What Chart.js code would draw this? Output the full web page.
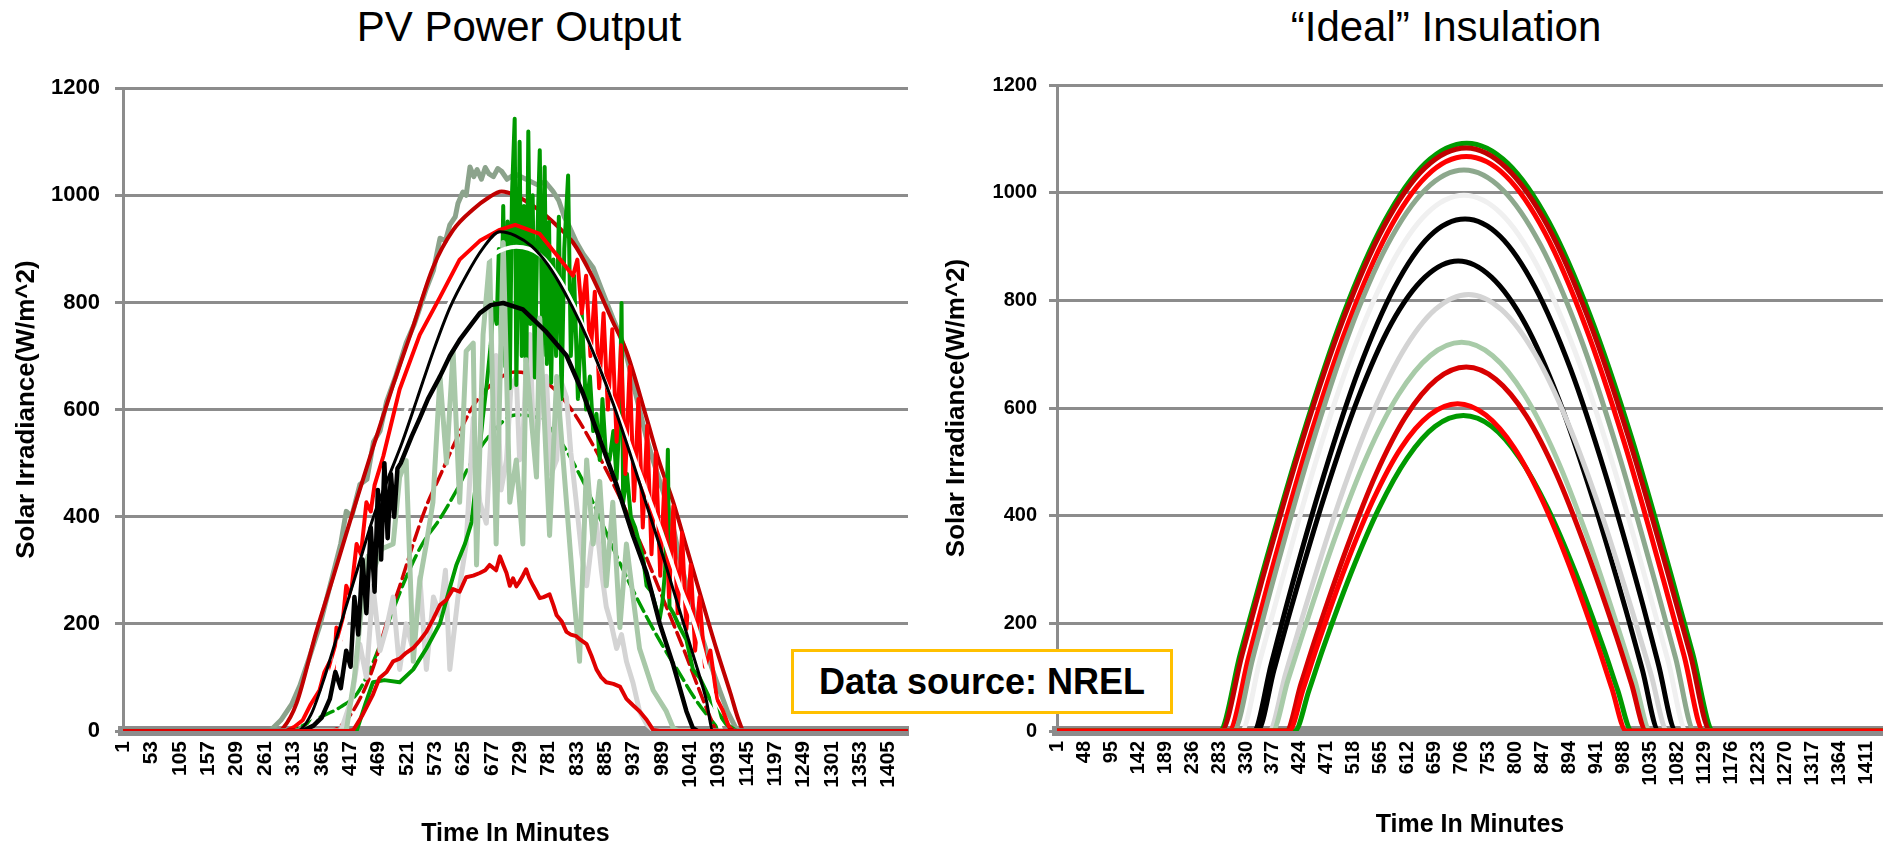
<!DOCTYPE html>
<html>
<head>
<meta charset="utf-8">
<script src="https://cdn.jsdelivr.net/npm/chart.js@4.4.1/dist/chart.umd.min.js"></script>
<style>
html,body{margin:0;padding:0;background:#fff;width:1900px;height:849px;overflow:hidden;}
#wrap{position:relative;width:1900px;height:849px;}
canvas{position:absolute;}
.ttl{position:absolute;top:6px;font-family:'Liberation Sans',Arial,sans-serif;font-size:42px;line-height:42px;color:#000;white-space:nowrap;transform:translateX(-50%);}
#src{position:absolute;left:791px;top:649px;width:376px;height:59px;border:3px solid #FFC000;background:#fff;font-family:'Liberation Sans',Arial,sans-serif;font-weight:bold;font-size:36px;line-height:59px;text-align:center;color:#000;}
</style>
</head>
<body>
<div id="wrap">
  <div class="ttl" style="left:519px;">PV Power Output</div>
  <div class="ttl" style="left:1446px;">“Ideal” Insulation</div>
  <canvas id="left" width="935" height="789" style="left:0;top:60px;"></canvas>
  <canvas id="right" width="960" height="789" style="left:940px;top:60px;"></canvas>
  <div id="src">Data source: NREL</div>
</div>
<script>
// ---------- tick labels ----------
const leftTicks = [1,53,105,157,209,261,313,365,417,469,521,573,625,677,729,781,833,885,937,989,1041,1093,1145,1197,1249,1301,1353,1405];
const rightTicks = [1,48,95,142,189,236,283,330,377,424,471,518,565,612,659,706,753,800,847,894,941,988,1035,1082,1129,1176,1223,1270,1317,1364,1411];
const yTicks = [0,200,400,600,800,1000,1200];

// ---------- PV Power Output series: [minute, W/m^2] ----------
const pvGrayGreen = [[1,0],[270,0],[290,20],[310,50],[325,85],[340,130],[361,195],[385,290],[400,350],[410,410],[420,400],[435,460],[448,470],[460,540],[472,560],[484,615],[500,660],[520,725],[535,760],[545,790],[557,826],[570,860],[582,920],[592,915],[600,945],[610,960],[615,985],[624,1006],[630,1000],[637,1053],[644,1035],[650,1048],[658,1030],[665,1052],[672,1040],[680,1035],[688,1050],[695,1045],[705,1030],[720,1040],[740,1030],[760,1020],[775,1025],[789,1008],[800,990],[810,960],[820,940],[831,915],[845,890],[863,865],[880,820],[899,771],[912,740],[924,701],[936,650],[948,600],[960,550],[973,505],[987,460],[1000,420],[1012,370],[1022,320],[1040,250],[1058,190],[1080,120],[1095,76],[1110,35],[1125,5],[1135,0],[1440,0]];
const pvDarkRed = [[1,0],[285,0],[294,5],[319,52],[355,185],[386,287],[423,412],[459,529],[496,646],[533,756],[569,865],[606,935],[643,974],[670,995],[695,1007],[720,1000],[760,975],[800,940],[826,912],[857,857],[899,764],[924,709],[961,584],[985,500],[1010,427],[1035,340],[1058,260],[1090,150],[1115,70],[1130,20],[1140,0],[1440,0]];
const pvRed = [[1,0],[300,0],[315,8],[330,20],[345,50],[361,76],[370,110],[380,130],[386,100],[392,193],[400,170],[410,271],[418,250],[429,349],[437,330],[447,427],[455,410],[462,459],[478,513],[508,638],[545,740],[582,810],[618,880],[655,915],[690,935],[720,945],[765,928],[802,881],[826,850],[834,880],[842,780],[850,850],[858,700],[866,820],[874,640],[882,780],[890,600],[898,750],[906,540],[914,720],[922,480],[930,680],[938,430],[946,620],[954,380],[962,570],[970,330],[978,520],[986,290],[994,470],[1002,250],[1010,420],[1018,220],[1026,370],[1034,190],[1042,310],[1050,150],[1058,250],[1068,120],[1078,150],[1090,60],[1100,40],[1112,8],[1120,0],[1440,0]];
const pvWhite = [[1,0],[330,0],[360,40],[400,170],[440,320],[480,470],[520,600],[560,710],[600,800],[642,857],[680,890],[722,904],[765,889],[802,842],[838,771],[875,677],[912,584],[948,482],[985,380],[1022,271],[1052,190],[1075,100],[1090,30],[1100,0],[1440,0]];
const pvBlack1 = [[1,0],[320,0],[345,30],[370,100],[400,200],[430,300],[460,400],[490,480],[512,537],[540,620],[570,710],[600,790],[630,850],[660,900],[692,932],[720,925],[750,905],[780,870],[810,820],[840,760],[870,690],[900,610],[930,520],[960,425],[990,330],[1020,230],[1050,130],[1070,60],[1083,0],[1440,0]];
const pvBlack2 = [[1,0],[330,0],[350,10],[365,25],[380,60],[390,110],[400,80],[410,150],[418,120],[425,250],[432,180],[440,320],[447,220],[455,380],[462,260],[468,450],[474,320],[480,500],[486,360],[492,480],[498,400],[504,490],[510,500],[530,550],[545,584],[560,620],[582,662],[600,700],[618,730],[640,760],[655,780],[675,795],[698,799],[734,787],[777,745],[814,701],[844,631],[875,545],[906,459],[936,365],[961,295],[985,201],[1010,123],[1034,37],[1046,5],[1055,0],[1440,0]];
const pvGreen = [[1,0],[420,0],[429,0],[445,50],[459,91],[480,95],[508,91],[533,115],[557,154],[582,201],[598,260],[612,310],[628,350],[640,390],[652,500],[660,580],[668,650],[675,720],[680,800],[686,760],[690,900],[694,720],[698,980],[702,680],[706,951],[710,640],[714,1000],[719,1143],[722,646],[726,900],[728,1100],[732,700],[736,980],[740,620],[744,1119],[748,760],[752,1000],[756,660],[760,900],[765,1084],[770,700],[774,1053],[778,685],[782,950],[786,650],[790,880],[795,700],[800,960],[805,620],[810,900],[817,1037],[822,700],[828,850],[835,620],[842,780],[850,600],[857,662],[863,560],[869,592],[875,506],[880,620],[886,520],[893,506],[900,560],[906,470],[912,600],[915,799],[918,427],[925,480],[932,400],[940,380],[948,349],[955,320],[961,271],[970,260],[978,230],[985,209],[990,240],[995,300],[1000,525],[1003,232],[1010,220],[1022,193],[1034,170],[1046,115],[1058,100],[1077,60],[1095,30],[1107,13],[1126,0],[1440,0]];
const pvGreen2 = [[1,0],[300,0],[330,10],[360,25],[400,45],[430,70],[460,130],[490,210],[520,287],[550,350],[581,395],[610,445],[643,508],[680,560],[720,590],[760,585],[800,545],[840,475],[870,410],[900,340],[930,275],[960,215],[990,160],[1020,110],[1050,60],[1080,20],[1100,0],[1440,0]];
const pvLightGreen = [[1,0],[400,0],[410,0],[425,100],[440,250],[447,326],[460,300],[475,340],[496,349],[508,474],[520,505],[533,130],[545,280],[557,350],[569,427],[582,662],[594,500],[606,709],[618,427],[630,709],[643,724],[649,310],[661,740],[673,881],[685,349],[698,912],[710,427],[722,506],[734,349],[740,693],[759,474],[765,771],[783,365],[796,662],[814,427],[826,271],[838,130],[851,506],[863,349],[875,466],[887,271],[899,427],[912,193],[924,349],[948,154],[973,76],[997,37],[1010,5],[1020,0],[1440,0]];
const pvLightGray = [[1,0],[400,0],[420,60],[435,162],[447,100],[459,271],[472,150],[484,193],[496,250],[508,115],[520,200],[533,150],[545,287],[557,115],[570,250],[582,216],[592,300],[600,115],[615,250],[630,349],[643,584],[655,427],[667,388],[676,560],[685,701],[694,450],[704,506],[712,640],[722,662],[728,506],[734,545],[740,680],[747,740],[753,560],[759,529],[768,640],[777,662],[786,480],[796,506],[805,650],[814,623],[822,520],[832,427],[842,330],[851,271],[860,350],[869,388],[878,300],[887,232],[896,200],[906,154],[915,180],[924,130],[936,90],[948,37],[961,13],[975,0],[1440,0]];
const pvRedLow = [[1,0],[415,0],[423,2],[440,30],[459,68],[471,99],[484,110],[496,130],[508,135],[520,146],[533,155],[545,169],[557,185],[569,208],[582,235],[594,245],[606,265],[618,260],[630,287],[643,290],[655,295],[665,300],[673,310],[685,300],[692,326],[698,310],[704,295],[710,271],[716,285],[722,270],[728,279],[734,290],[740,302],[746,285],[753,271],[759,260],[765,248],[772,250],[783,255],[790,235],[796,216],[805,205],[814,185],[822,180],[832,177],[840,170],[851,162],[860,140],[869,115],[878,100],[887,91],[900,88],[912,83],[924,60],[936,48],[948,37],[961,21],[973,2],[985,0],[1440,0]];
const pvRedRise = [[1,0],[380,0],[410,20],[440,70],[460,120],[484,201],[508,270],[533,350],[557,420],[581,474],[610,540],[643,607],[680,650],[720,670],[750,665],[790,640],[830,590],[870,520],[910,440],[950,350],[990,250],[1030,150],[1060,70],[1080,20],[1090,0],[1440,0]];

// ---------- "Ideal" Insulation series: [minute, W/m^2] ----------
const idGreenHigh = [[1,0],[284,0],[320,143],[356,283],[428,546],[499,772],[571,946],[643,1055],[715,1092],[786,1055],[858,946],[930,772],[1002,546],[1073,283],[1109,143],[1145,0],[1440,0]];
const idDarkRed = [[1,0],[287,0],[323,141],[358,280],[429,542],[500,766],[571,938],[642,1046],[714,1083],[784,1046],[856,938],[927,766],[998,542],[1069,280],[1105,141],[1140,0],[1440,0]];
const idRedHigh = [[1,0],[300,0],[335,139],[369,276],[438,534],[507,754],[576,924],[645,1031],[714,1067],[783,1031],[852,924],[921,754],[990,534],[1059,276],[1094,139],[1128,0],[1440,0]];
const idGrayGreen = [[1,0],[308,0],[342,136],[375,270],[442,521],[509,737],[576,902],[643,1006],[710,1042],[777,1006],[844,902],[911,737],[978,521],[1045,270],[1079,136],[1112,0],[1440,0]];
const idWhite = [[1,0],[322,0],[354,130],[387,258],[451,498],[516,704],[581,862],[645,961],[710,995],[775,961],[839,862],[904,704],[969,498],[1033,258],[1066,130],[1098,0],[1440,0]];
const idBlackHigh = [[1,0],[343,0],[374,124],[404,246],[466,476],[527,672],[589,824],[650,919],[712,951],[773,919],[834,824],[896,672],[957,476],[1019,246],[1049,124],[1080,0],[1440,0]];
const idBlackLow = [[1,0],[350,0],[379,114],[408,226],[467,437],[525,617],[583,756],[642,843],[700,873],[758,843],[817,756],[875,617],[933,437],[992,226],[1021,114],[1050,0],[1440,0]];
const idLightGray = [[1,0],[370,0],[399,106],[428,210],[486,406],[544,573],[602,702],[660,783],[718,811],[775,783],[833,702],[891,573],[949,406],[1007,210],[1036,106],[1065,0],[1440,0]];
const idLightGreen = [[1,0],[376,0],[403,94],[431,187],[486,361],[541,511],[596,625],[651,697],[706,722],[760,697],[815,625],[870,511],[925,361],[980,187],[1008,94],[1035,0],[1440,0]];
const idRedMid = [[1,0],[400,0],[426,88],[452,175],[505,338],[557,478],[609,585],[662,653],[714,676],[766,653],[819,585],[871,478],[923,338],[976,175],[1002,88],[1028,0],[1440,0]];
const idRedLow = [[1,0],[405,0],[430,79],[454,157],[503,304],[552,430],[601,527],[650,587],[699,608],[748,587],[797,527],[846,430],[895,304],[944,157],[968,79],[993,0],[1440,0]];
const idGreenLow = [[1,0],[415,0],[440,76],[464,152],[513,293],[562,414],[611,507],[660,566],[709,586],[758,566],[807,507],[856,414],[905,293],[954,152],[978,76],[1003,0],[1440,0]];

// ---------- helpers ----------
const FF = "'Liberation Sans', Arial, sans-serif";
const toPts = a => a.map(p => ({x: p[0], y: p[1]}));
function line(data, color, width, smooth, dash) {
  return {
    data: toPts(data), borderColor: color, backgroundColor: color, borderWidth: width,
    pointRadius: 0, fill: false, tension: 0,
    cubicInterpolationMode: smooth ? 'monotone' : 'default',
    borderJoinStyle: 'round', borderCapStyle: 'round',
    borderDash: dash || []
  };
}
function options(cfg) {
  return {
    responsive: false, animation: false, devicePixelRatio: 1,
    layout: {padding: {top: 25, right: cfg.padRight, left: 0, bottom: 0}},
    plugins: {legend: {display: false}, tooltip: {enabled: false}, title: {display: false}},
    scales: {
      x: {
        type: 'linear', min: 0.5, max: 1440.5,
        afterBuildTicks: ax => { ax.ticks = cfg.ticks.map(v => ({value: v})); },
        afterFit: ax => { ax.height = 118; },
        grid: {color: 'rgba(0,0,0,0)', drawTicks: false},
        border: {display: true, color: '#8c8c8c', width: 10},
        ticks: {autoSkip: false, maxRotation: 90, minRotation: 90, padding: 10, color: '#000',
                font: {family: FF, size: cfg.xFont, weight: 'bold'}, callback: v => String(v)},
        title: {display: true, text: 'Time In Minutes', color: '#000',
                font: {family: FF, size: 25, weight: 'bold'}, padding: {top: 0, bottom: cfg.xTitlePad}}
      },
      y: {
        min: 0, max: 1200,
        afterBuildTicks: ax => { ax.ticks = yTicks.map(v => ({value: v})); },
        afterFit: ax => { ax.width = cfg.yWidth; },
        grid: {color: '#8c8c8c', lineWidth: 3, drawTicks: true, tickLength: 8, tickColor: '#8c8c8c', tickWidth: 3},
        border: {display: true, color: '#8c8c8c', width: 3},
        ticks: {padding: cfg.yPad, color: '#000', font: {family: FF, size: cfg.yFont, weight: 'bold'},
                callback: v => String(v)},
        title: {display: true, text: 'Solar Irradiance(W/m^2)', color: '#000',
                font: {family: FF, size: 26, weight: 'bold'}, padding: {top: cfg.yTitlePad, bottom: 0}}
      }
    }
  };
}

// ---------- left chart: PV Power Output ----------
new Chart(document.getElementById('left'), {
  type: 'line',
  data: {datasets: [
    line(pvRedLow, '#E00000', 4, false),
    line(pvBlack2, '#000000', 4.5, false),
    line(pvBlack1, '#000000', 3, true),
    line(pvWhite, '#FFFFFF', 4, true),
    line(pvRed, '#FF0000', 4, false),
    line(pvLightGreen, '#A8C8A8', 5, false),
    line(pvGreen, '#009A00', 4, false),
    line(pvLightGray, '#D4D4D4', 5, false),
    line(pvRedRise, '#D00000', 3.5, true, [14, 6]),
    line(pvGreen2, '#009A00', 3.5, true, [14, 6]),
    line(pvDarkRed, '#C00000', 4, true),
    line(pvGrayGreen, '#8CA38C', 5, false)
  ]},
  options: options({ticks: leftTicks, padRight: 27, yWidth: 123, yPad: 15, yFont: 22, xFont: 21, xTitlePad: 0, yTitlePad: 11})
});

// ---------- right chart: "Ideal" Insulation ----------
new Chart(document.getElementById('right'), {
  type: 'line',
  data: {datasets: [
    line(idRedLow, '#FF0000', 5, true),
    line(idGreenLow, '#009A00', 5, true),
    line(idRedMid, '#D80000', 5, true),
    line(idLightGreen, '#A8CBA8', 5, true),
    line(idLightGray, '#D4D4D4', 5, true),
    line(idBlackLow, '#000000', 5, true),
    line(idBlackHigh, '#000000', 5, true),
    line(idWhite, '#F0F0F0', 5, true),
    line(idGrayGreen, '#8DA88D', 5, true),
    line(idRedHigh, '#FF0000', 5, true),
    line(idDarkRed, '#C00000', 5, true),
    line(idGreenHigh, '#009A00', 5, true)
  ]},
  options: options({ticks: rightTicks, padRight: 0, yWidth: 117, yPad: 12, yFont: 20, xFont: 20, xTitlePad: 9, yTitlePad: 1})
});
</script>
</body>
</html>
